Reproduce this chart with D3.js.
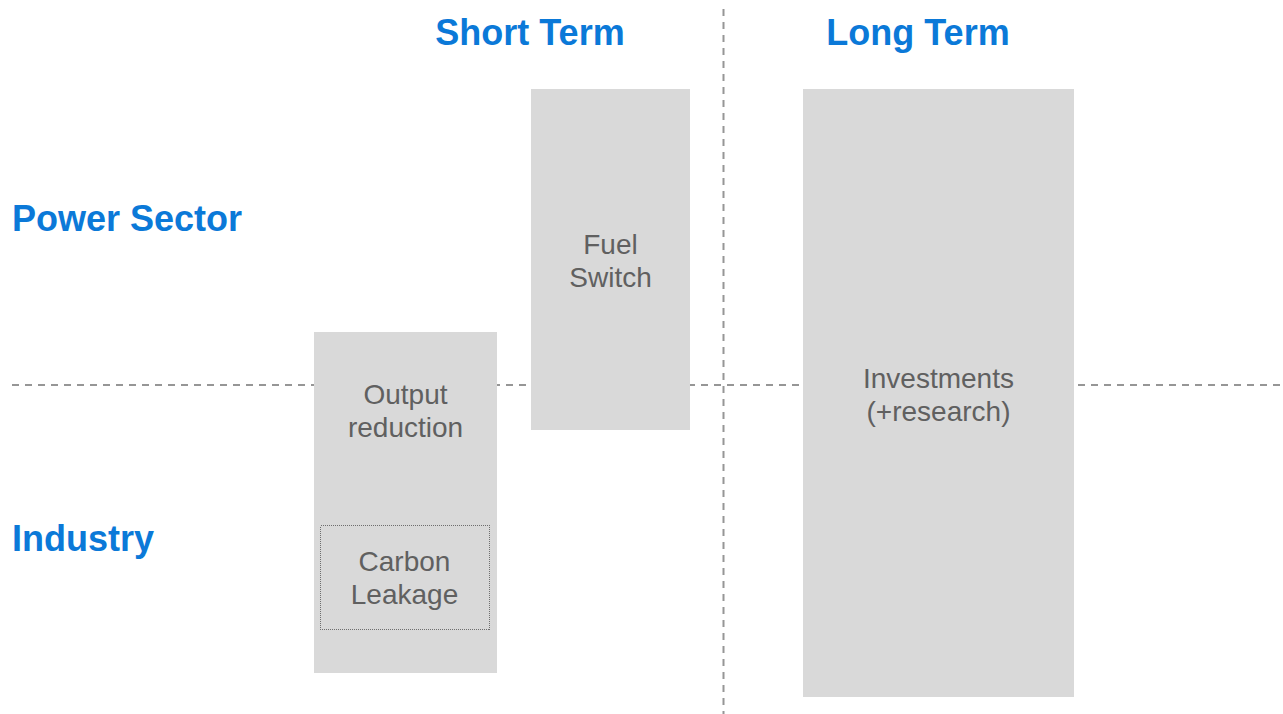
<!DOCTYPE html>
<html>
<head>
<meta charset="utf-8">
<script src="https://cdn.jsdelivr.net/npm/d3@7"></script>
<style>
  html, body { margin: 0; padding: 0; background: #fff; }
  text { font-family: "Liberation Sans", Arial, sans-serif; }
</style>
</head>
<body>
<div id="container"></div>
<script>
// Chart dimensions
const width = 1283;
const height = 714;

// Column headings (time horizon) and row headings (sector)
const horizonLabels = ["Short Term", "Long Term"];
const horizonCenters = [530, 918];
const sectorLabels = ["Power Sector", "Industry"];
const sectorCenters = [218, 538];

// Boxes: label lines and extents in diagram units
const boxLabels = [["Output", "reduction"], ["Fuel", "Switch"], ["Investments", "(+research)"]];
const boxX0 = [314, 531, 803];
const boxX1 = [497, 690, 1074];
const boxY0 = [332, 89, 89];
const boxY1 = [673, 430, 697];
const boxTextY = [394, 244, 378];

// Nested box inside "Output reduction"
const innerLabels = [["Carbon", "Leakage"]];
const innerX0 = [320];
const innerX1 = [489];
const innerY0 = [525];
const innerY1 = [629];
const innerTextY = [561];

// Divider lines
const sectorDivider = 385;
const horizonDivider = 723.5;

const x = d3.scaleLinear().domain([0, 1283]).range([0, width]);
const y = d3.scaleLinear().domain([0, 714]).range([0, height]);

const blue = "#0b79d8";
const grey = "#606060";

const svg = d3.select("#container").append("svg")
    .attr("width", width)
    .attr("height", height);

// dashed dividers
svg.append("line")
    .attr("x1", x(12)).attr("x2", x(1283))
    .attr("y1", y(sectorDivider)).attr("y2", y(sectorDivider))
    .attr("stroke", "#969696")
    .attr("stroke-width", 2)
    .attr("stroke-dasharray", "7 6");

svg.append("line")
    .attr("x1", x(horizonDivider)).attr("x2", x(horizonDivider))
    .attr("y1", y(9)).attr("y2", y(714))
    .attr("stroke", "#969696")
    .attr("stroke-width", 2)
    .attr("stroke-dasharray", "7 6");

const boxes = boxLabels.map((lab, i) => ({
    lines: lab, x0: boxX0[i], x1: boxX1[i], y0: boxY0[i], y1: boxY1[i], ty: boxTextY[i]
}));
const inner = innerLabels.map((lab, i) => ({
    lines: lab, x0: innerX0[i], x1: innerX1[i], y0: innerY0[i], y1: innerY1[i], ty: innerTextY[i]
}));

function drawBoxes(data, cls, styleRect) {
    const g = svg.append("g")
        .selectAll("g")
        .data(data)
        .join("g")
        .attr("class", cls);

    const r = g.append("rect")
        .attr("x", d => x(d.x0))
        .attr("y", d => y(d.y0))
        .attr("width", d => x(d.x1) - x(d.x0))
        .attr("height", d => y(d.y1) - y(d.y0));
    styleRect(r);

    g.append("text")
        .attr("x", d => (x(d.x0) + x(d.x1)) / 2)
        .attr("y", d => y(d.ty))
        .attr("text-anchor", "middle")
        .attr("fill", grey)
        .attr("font-size", 28)
        .selectAll("tspan")
        .data(d => d.lines.map((t, k) => ({ t, k, cx: (x(d.x0) + x(d.x1)) / 2 })))
        .join("tspan")
        .attr("x", d => d.cx)
        .attr("dy", d => d.k === 0 ? "0.35em" : 33)
        .text(d => d.t);
}

drawBoxes(boxes, "box", r => r.attr("fill", "#d9d9d9"));
drawBoxes(inner, "inner", r => r
    .attr("fill", "none")
    .attr("stroke", "#6e6e6e")
    .attr("stroke-width", 1)
    .attr("stroke-dasharray", "1 1")
    .attr("shape-rendering", "crispEdges")
    .attr("transform", "translate(0.5,0.5)"));

// headings
svg.append("g")
    .selectAll("text")
    .data(horizonLabels)
    .join("text")
    .attr("x", (d, i) => x(horizonCenters[i]))
    .attr("y", y(32))
    .attr("dy", "0.35em")
    .attr("text-anchor", "middle")
    .attr("font-size", 36)
    .attr("font-weight", "bold")
    .attr("fill", blue)
    .text(d => d);

svg.append("g")
    .selectAll("text")
    .data(sectorLabels)
    .join("text")
    .attr("x", x(12))
    .attr("y", (d, i) => y(sectorCenters[i]))
    .attr("dy", "0.35em")
    .attr("text-anchor", "start")
    .attr("font-size", 36)
    .attr("font-weight", "bold")
    .attr("fill", blue)
    .text(d => d);
</script>
</body>
</html>
